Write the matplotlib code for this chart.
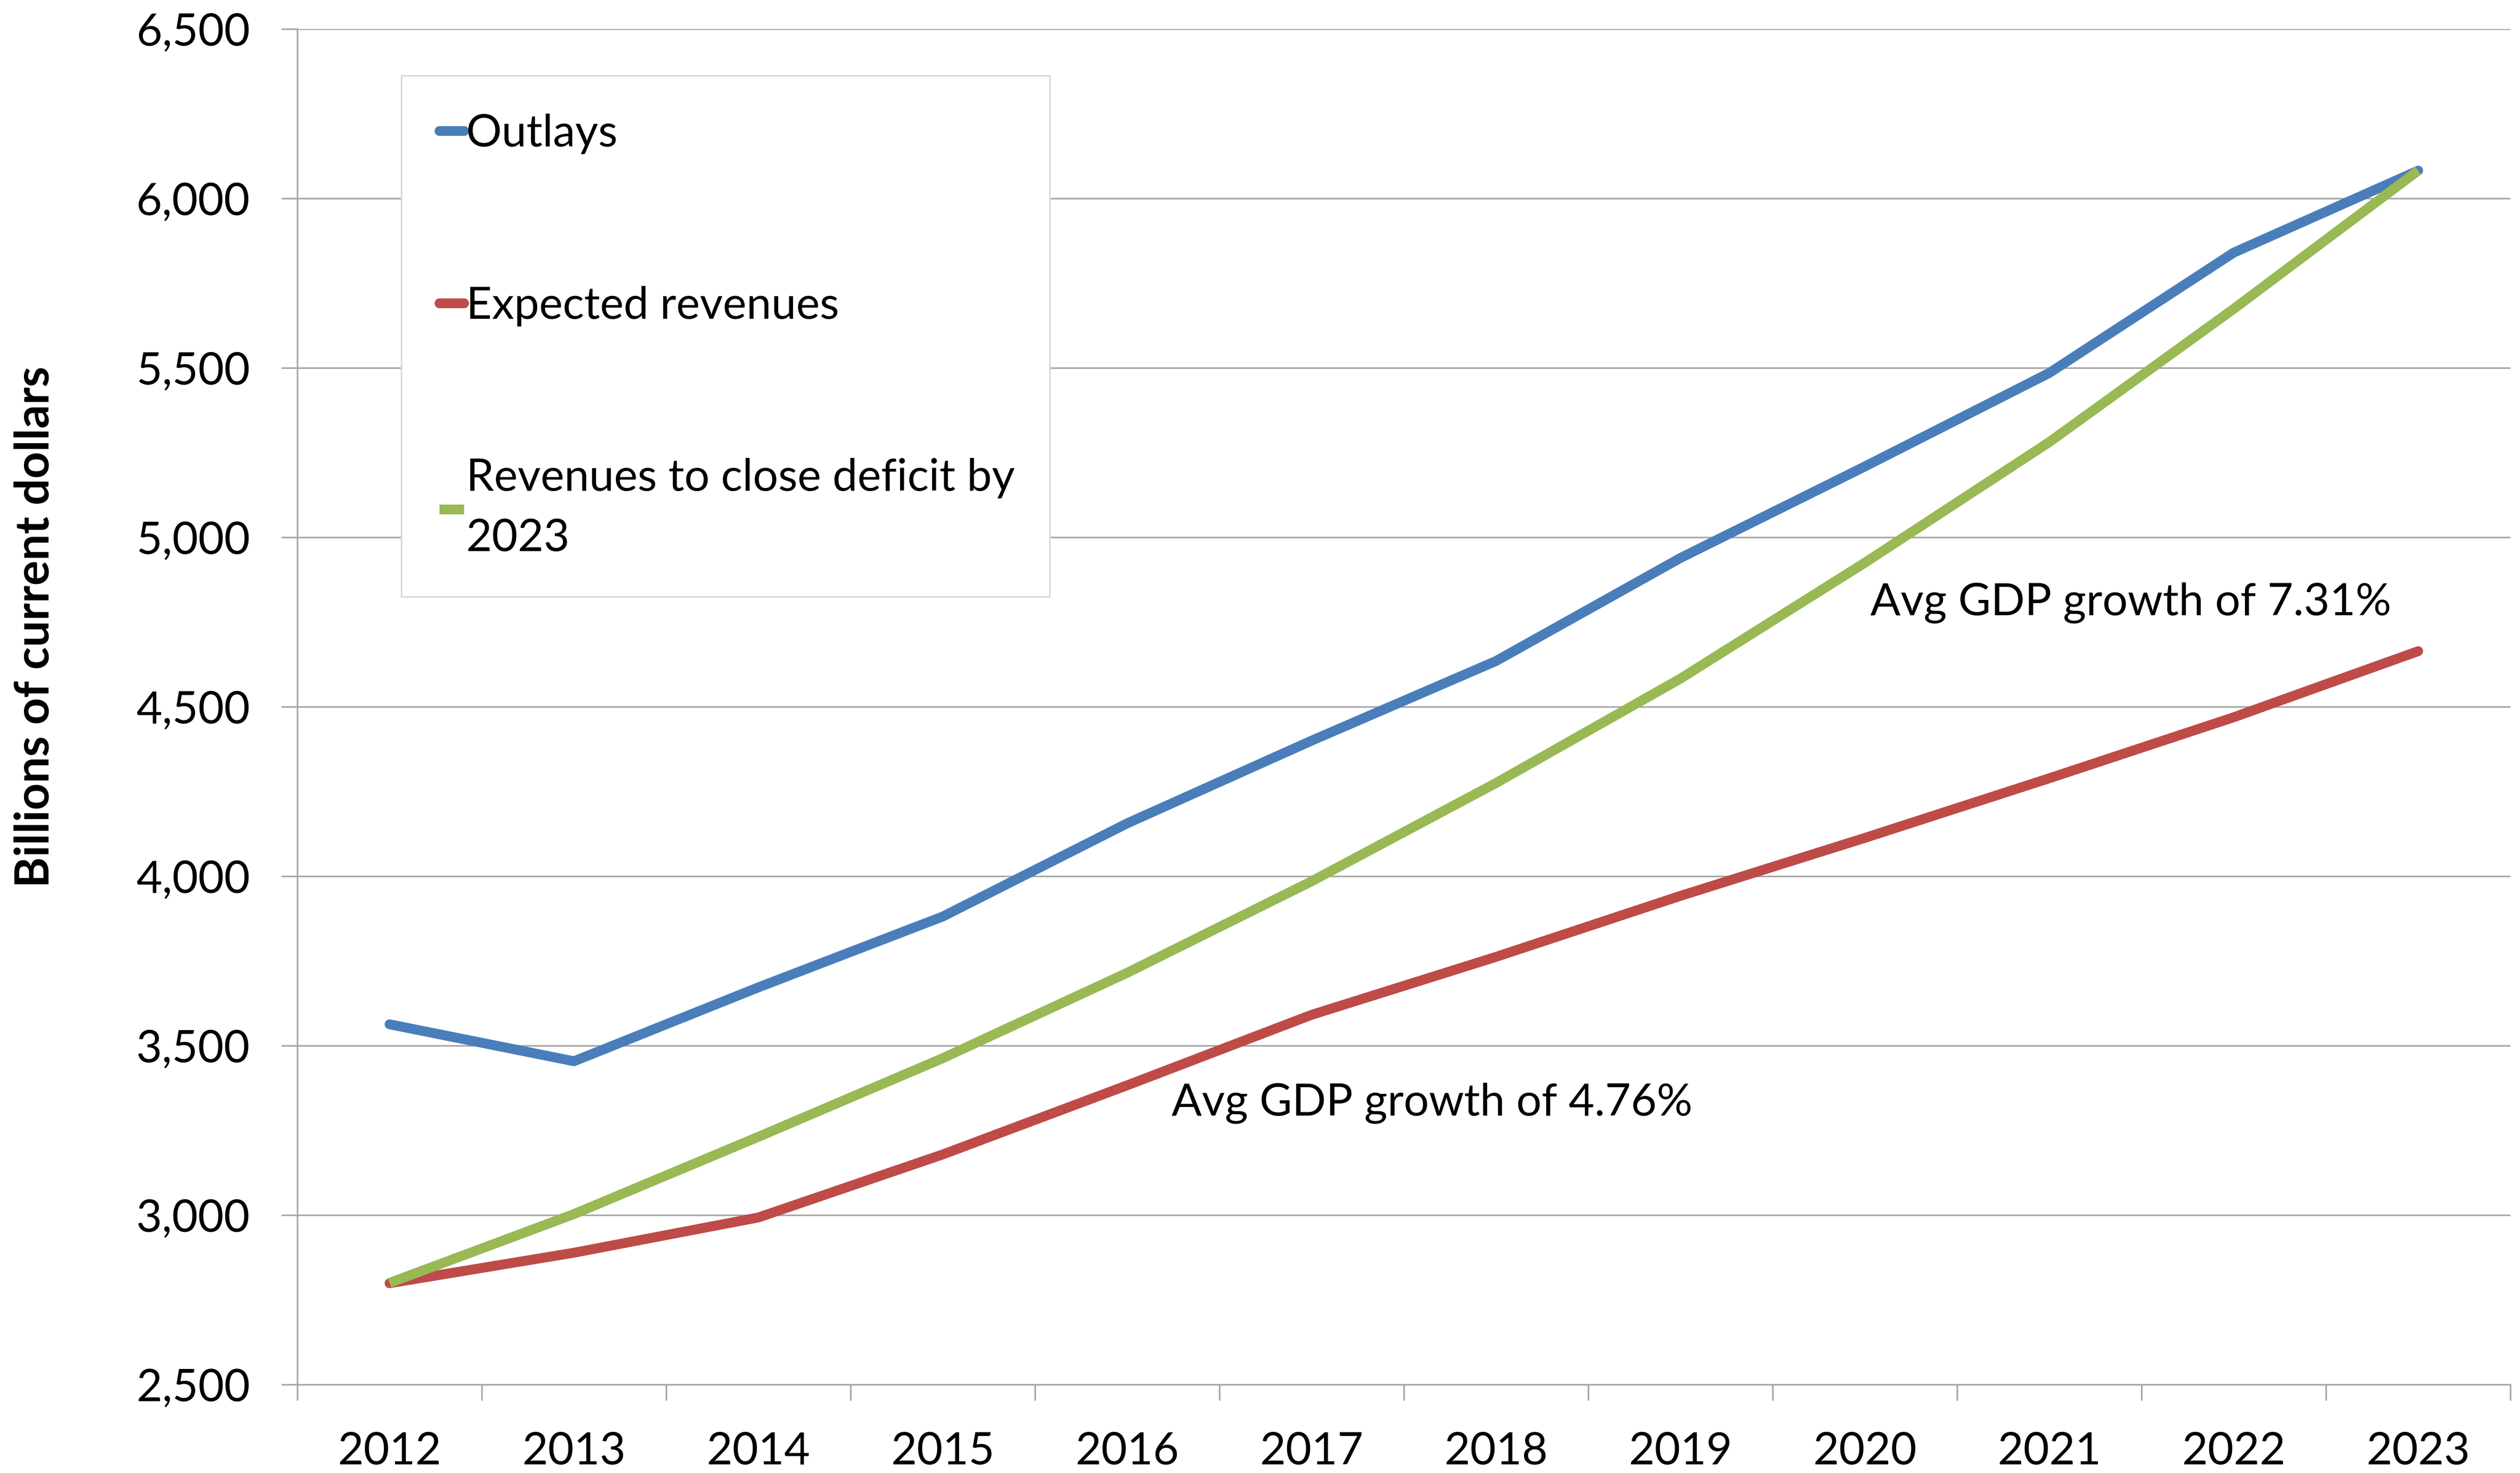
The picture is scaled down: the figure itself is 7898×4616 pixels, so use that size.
import numpy as np
import matplotlib
matplotlib.use("Agg")
import matplotlib.pyplot as plt

years = ["2012", "2013", "2014", "2015", "2016", "2017",
         "2018", "2019", "2020", "2021", "2022", "2023"]
outlays = [3563, 3454, 3672, 3881, 4156, 4400, 4635, 4939, 5209, 5485, 5840, 6082]
expected_revenues = [2799, 2889, 2993, 3179, 3383, 3591, 3762, 3942, 4113, 4289, 4469, 4664]
revenues_to_close = [2800, 3003, 3231, 3463, 3715, 3985, 4275, 4583, 4925, 5281, 5674, 6082]

y_ticks = [2500, 3000, 3500, 4000, 4500, 5000, 5500, 6000, 6500]

plt.rcParams["font.family"] = ["Lato", "DejaVu Sans"]

DPI = 503.7
fig = plt.figure(figsize=(7898 / DPI, 4616 / DPI), dpi=DPI)
ax = fig.add_axes([185 / 1568, 1 - 861 / 916, 1377 / 1568, 843 / 916])

x = np.arange(len(years))
ax.plot(x, outlays, color="#4A7EBB", linewidth=4.4, solid_capstyle="round",
        solid_joinstyle="round", label="Outlays", zorder=3)
ax.plot(x, expected_revenues, color="#BE4B48", linewidth=4.4, solid_capstyle="round",
        solid_joinstyle="round", label="Expected revenues", zorder=3)
ax.plot(x, revenues_to_close, color="#98B954", linewidth=4.4, solid_capstyle="butt",
        solid_joinstyle="round", label="Revenues to close deficit by\n2023", zorder=4)

ax.set_xlim(-0.5, len(years) - 0.5)
ax.set_ylim(2500, 6500)
ax.set_yticks(y_ticks)
ax.set_yticklabels([f"{v:,}" for v in y_ticks], fontsize=20)
ax.grid(axis="y", color="#A6A6A6", linewidth=0.7)
ax.set_axisbelow(True)

# category labels between boundary ticks (Excel style)
ax.set_xticks(np.arange(-0.5, len(years), 1))
ax.set_xticklabels([])
ax.set_xticks(x, minor=True)
ax.set_xticklabels(years, minor=True, fontsize=20)
ax.tick_params(axis="x", which="major", length=7.2, width=0.7, color="#A6A6A6", direction="out")
ax.tick_params(axis="x", which="minor", length=0, pad=21)
ax.tick_params(axis="y", length=7.2, width=0.7, color="#A6A6A6", pad=14)

for side in ("top", "right"):
    ax.spines[side].set_visible(False)
for side in ("left", "bottom"):
    ax.spines[side].set_color("#A6A6A6")
    ax.spines[side].set_linewidth(0.7)

fig.text(22 / 1568, 1 - 390 / 916, "Billions of current dollars", rotation=90,
         fontsize=21, fontweight="bold", ha="center", va="center")

ax.text(8.03, 4806, "Avg GDP growth of 7.31%", fontsize=20, ha="left", va="center")
ax.text(4.24, 3330, "Avg GDP growth of 4.76%", fontsize=20, ha="left", va="center")

leg = ax.legend(loc="upper left", bbox_to_anchor=(0.047, 0.5836, 0.293, 0.382),
                mode="expand", fontsize=20, handlelength=0.55, handletextpad=0.05,
                labelspacing=2.95, borderpad=0.85, borderaxespad=0, fancybox=False,
                framealpha=1, edgecolor="#D9D9D9")
leg.get_frame().set_linewidth(0.7)
for t in leg.get_texts():
    t.set_linespacing(1.6)

fig.savefig("out.png", dpi=DPI, facecolor="white")
